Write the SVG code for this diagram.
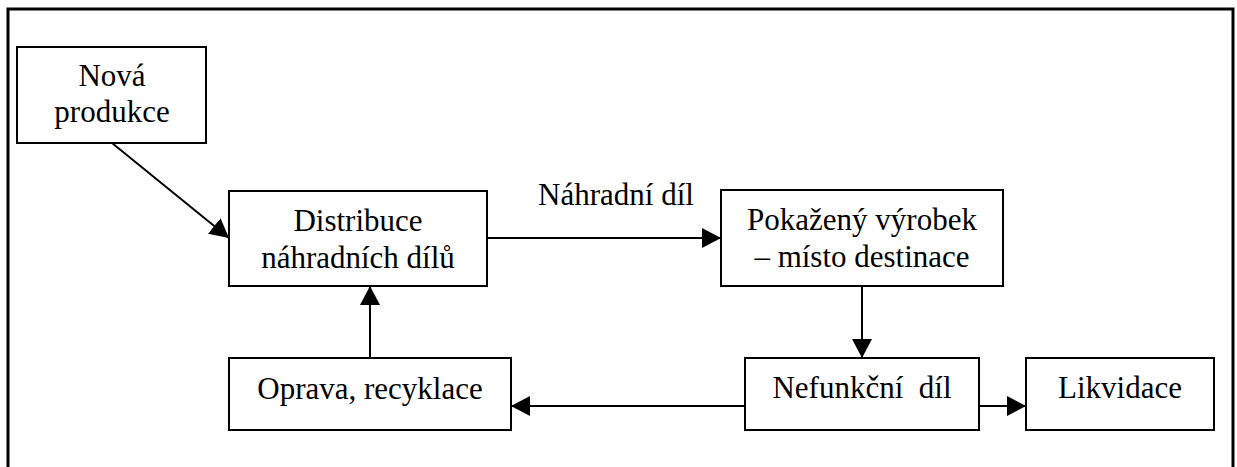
<svg xmlns="http://www.w3.org/2000/svg" width="1237" height="467" viewBox="0 0 1237 467">
  <style>
    .box { fill: #ffffff; stroke: #000000; stroke-width: 2; }
    .frame { fill: none; stroke: #000000; stroke-width: 3; }
    .lbl { font-family: "Liberation Serif", "Times New Roman", serif; font-size: 31px; fill: #000000; text-anchor: middle; }
    .edge { fill: none; stroke: #000000; stroke-width: 2; marker-end: url(#arrow); }
  </style>
  <defs>
    <marker id="arrow" markerUnits="userSpaceOnUse" markerWidth="19" markerHeight="20" refX="19" refY="10" orient="auto">
      <path d="M0,0 L19,10 L0,20 z" fill="#000000"/>
    </marker>
  </defs>

  <rect width="1237" height="467" fill="#ffffff"/>
  <!-- outer frame -->
  <rect class="frame" x="8" y="9" width="1225" height="480"/>

  <g id="connectors">
    <line class="edge" x1="112" y1="143" x2="229" y2="238"/>
    <line class="edge" x1="487" y1="238" x2="721" y2="238"/>
    <line class="edge" x1="862" y1="286" x2="862" y2="358"/>
    <line class="edge" x1="979" y1="406" x2="1026" y2="406"/>
    <line class="edge" x1="745" y1="406" x2="511" y2="406"/>
    <line class="edge" x1="370" y1="358" x2="370" y2="286"/>
    <text class="lbl" x="616" y="205">Náhradní díl</text>
  </g>

  <g id="nova-produkce">
    <rect class="box" x="17" y="47" width="189" height="96"/>
    <text class="lbl" x="112" y="86">Nová</text>
    <text class="lbl" x="112" y="122">produkce</text>
  </g>

  <g id="distribuce">
    <rect class="box" x="229" y="191" width="258" height="95"/>
    <text class="lbl" x="358" y="231">Distribuce</text>
    <text class="lbl" x="358" y="268">náhradních dílů</text>
  </g>

  <g id="pokazeny-vyrobek">
    <rect class="box" x="721" y="190" width="282" height="96"/>
    <text class="lbl" x="862" y="230">Pokažený výrobek</text>
    <text class="lbl" x="862" y="267">– místo destinace</text>
  </g>

  <g id="nefunkcni-dil">
    <rect class="box" x="745" y="358" width="234" height="72"/>
    <text class="lbl" x="862" y="398" xml:space="preserve">Nefunkční  díl</text>
  </g>

  <g id="likvidace">
    <rect class="box" x="1026" y="358" width="188" height="72"/>
    <text class="lbl" x="1120" y="398">Likvidace</text>
  </g>

  <g id="oprava-recyklace">
    <rect class="box" x="229" y="358" width="282" height="72"/>
    <text class="lbl" x="370" y="399">Oprava, recyklace</text>
  </g>
</svg>
